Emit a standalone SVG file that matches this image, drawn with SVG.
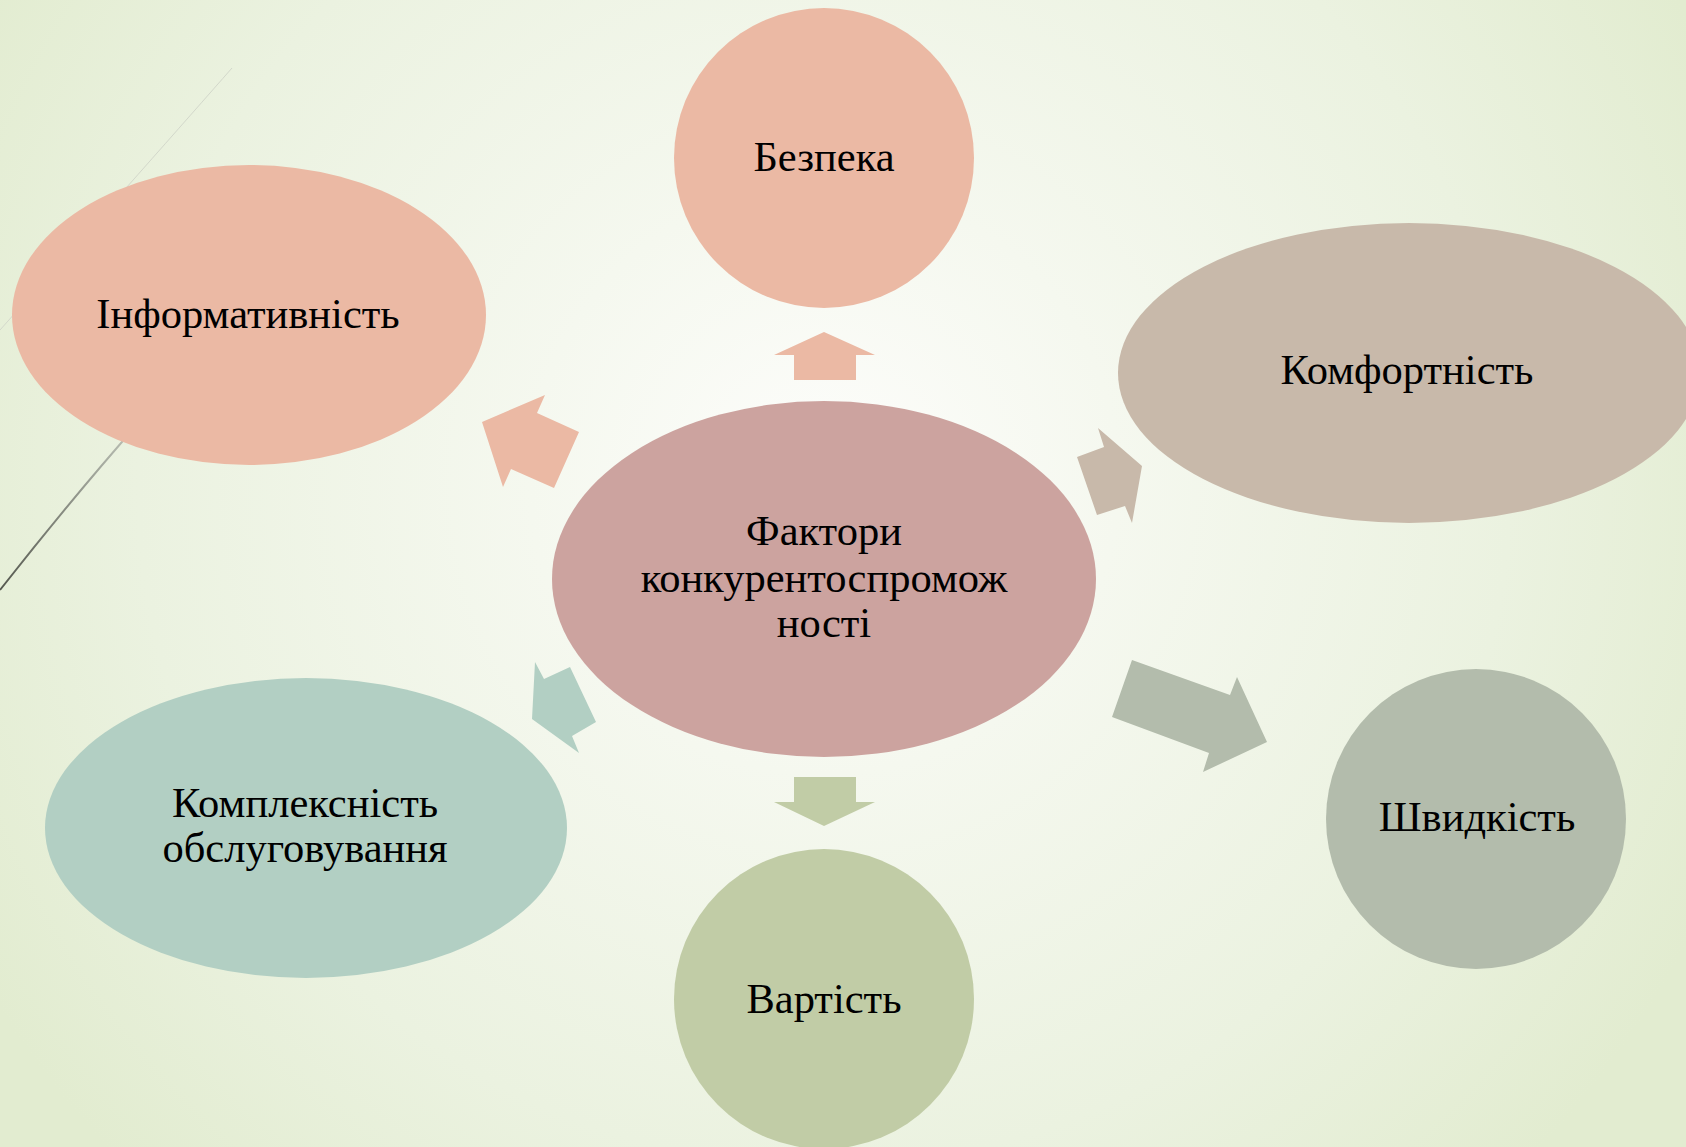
<svg xmlns="http://www.w3.org/2000/svg" width="1686" height="1147" viewBox="0 0 1686 1147">
  <defs>
    <radialGradient id="bg" gradientUnits="userSpaceOnUse" cx="824" cy="480" r="980">
      <stop offset="0" stop-color="#FDFDFB"/>
      <stop offset="0.3" stop-color="#F5F8EF"/>
      <stop offset="0.7" stop-color="#EBF2E0"/>
      <stop offset="1" stop-color="#E2ECD0"/>
    </radialGradient>
    <linearGradient id="wisp" gradientUnits="userSpaceOnUse" x1="130" y1="440" x2="0" y2="590">
      <stop offset="0" stop-color="#B8BDB2"/>
      <stop offset="1" stop-color="#55584F"/>
    </linearGradient>
  </defs>
  <style>
    .lbl { font-family: "Liberation Serif", "Times New Roman", serif; font-size: 42.5px; fill: #000; text-anchor: middle; }
    .pink { fill: #EBB9A4; }
    .tan { fill: #C8B9AA; }
    .grey { fill: #B3BCAC; }
    .olive { fill: #C1CCA6; }
    .teal { fill: #B2CFC3; }
    .rose { fill: #CCA39F; }
  </style>
  <rect x="0" y="0" width="1686" height="1147" fill="url(#bg)"/>
  <g id="decor" fill="none">
    <path d="M232,68 Q160,150 0,330" stroke="#D3D8CB" stroke-width="1"/>
    <path d="M210,345 Q110,450 0,590" stroke="url(#wisp)" stroke-width="2"/>
  </g>
  <g id="connectors">
    <polygon class="pink" points="824,332 875,355 856,355 856,380 794,380 794,355 774,355"/>
    <polygon class="pink" points="482,422 545,395 537,413 579,432 554,488 511,469 503,487"/>
    <polygon class="tan" points="1077,457 1104,447 1098,428 1142,466 1132,523 1125,506 1097,515"/>
    <polygon class="grey" points="1132,660 1230,695 1237,677 1267,742 1203,772 1209,753 1112,717"/>
    <polygon class="olive" points="794,777 856,777 856,802 875,802 824,826 774,802 794,802"/>
    <polygon class="teal" points="570,667 596,722 572,736 579,753 532,719 535,662 544,679"/>
  </g>
  <g id="node-bezpeka">
    <circle class="pink" cx="824" cy="158" r="150"/>
    <text class="lbl" x="824" y="171">Безпека</text>
  </g>
  <g id="node-informatyvnist">
    <ellipse class="pink" cx="249" cy="315" rx="237" ry="150"/>
    <text class="lbl" x="248" y="328">Інформативність</text>
  </g>
  <g id="node-komfortnist">
    <ellipse class="tan" cx="1409" cy="373" rx="291" ry="150"/>
    <text class="lbl" x="1407" y="384">Комфортність</text>
  </g>
  <g id="node-shvydkist">
    <circle class="grey" cx="1476" cy="819" r="150"/>
    <text class="lbl" x="1477" y="831">Швидкість</text>
  </g>
  <g id="node-vartist">
    <circle class="olive" cx="824" cy="999" r="150"/>
    <text class="lbl" x="824" y="1013">Вартість</text>
  </g>
  <g id="node-kompleksnist">
    <ellipse class="teal" cx="306" cy="828" rx="261" ry="150"/>
    <text class="lbl" x="305" y="817">Комплексність</text>
    <text class="lbl" x="305" y="862">обслуговування</text>
  </g>
  <g id="node-center">
    <ellipse class="rose" cx="824" cy="579" rx="272" ry="178"/>
    <text class="lbl" x="824" y="545">Фактори</text>
    <text class="lbl" x="824" y="592">конкурентоспромож</text>
    <text class="lbl" x="824" y="637">ності</text>
  </g>
</svg>
